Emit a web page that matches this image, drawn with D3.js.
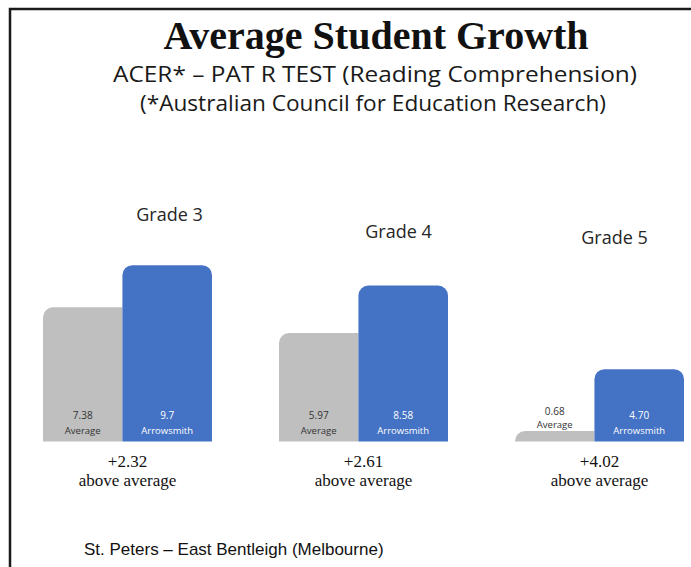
<!DOCTYPE html>
<html>
<head>
<meta charset="utf-8">
<script src="https://cdn.jsdelivr.net/npm/d3@7/dist/d3.min.js"></script>
<style>
    body { margin: 0; background: #fff; }
    svg { display: block; }
</style>
</head>
<body>
<div id="visualization"></div>
<script>
// Chart data
const grades = ["Grade 3", "Grade 4", "Grade 5"];
const seriesNames = ["Average", "Arrowsmith"];
const averageValues = [7.38, 5.97, 0.68];
const arrowsmithValues = [9.7, 8.58, 4.70];
const averageLabels = ["7.38", "5.97", "0.68"];
const arrowsmithLabels = ["9.7", "8.58", "4.70"];
// each grade was its own little chart, with its own axis maximum
const axisMax = [11, 11, 13];

// Layout
const width = 691, height = 567;
const baseline = 441.5, plotHeight = 200;
const titleDx = [42, 35, 15];
const titleY = [221, 238, 244];
const colors = { Average: "#bfbfbf", Arrowsmith: "#4472c4" };

const svg = d3.select("#visualization").append("svg")
    .attr("width", width)
    .attr("height", height);

// Frame (left + top edges)
svg.append("path")
    .attr("d", "M10,567 L10,9 L691,9")
    .attr("fill", "none")
    .attr("stroke", "#1a1a1a")
    .attr("stroke-width", 2.5);

// Titles
svg.append("text")
    .attr("x", 376).attr("y", 49)
    .attr("text-anchor", "middle")
    .attr("font-family", "Liberation Serif, serif")
    .attr("font-weight", "bold")
    .attr("font-size", 40)
    .attr("fill", "#111")
    .text("Average Student Growth");

svg.append("text")
    .attr("x", 375).attr("y", 82)
    .attr("text-anchor", "middle")
    .attr("font-family", "Open Sans, sans-serif")
    .attr("font-size", 21)
    .attr("fill", "#1a1a1a")
    .attr("textLength", 524)
    .attr("lengthAdjust", "spacingAndGlyphs")
    .text("ACER* \u2013 PAT R TEST (Reading Comprehension)");

svg.append("text")
    .attr("x", 373).attr("y", 111)
    .attr("text-anchor", "middle")
    .attr("font-family", "Open Sans, sans-serif")
    .attr("font-size", 21)
    .attr("fill", "#1a1a1a")
    .attr("textLength", 466)
    .attr("lengthAdjust", "spacingAndGlyphs")
    .text("(*Australian Council for Education Research)");

// Scales
const xGroup = d3.scaleBand()
    .domain(grades)
    .range([43, 684])
    .paddingInner(0.284);

// gray bar a bit narrower than the blue one
const xInner = d3.scaleLinear().domain([0, 1]).range([0, xGroup.bandwidth()]);
const split = 0.47;

const yScales = axisMax.map(m => d3.scaleLinear()
    .domain([0, m])
    .range([baseline, baseline - plotHeight]));

// Build bar records
let bars = [];
grades.forEach((g, i) => {
    bars.push({ grade: g, i: i, key: "Average", value: averageValues[i], label: averageLabels[i], x0: 0, x1: split });
    bars.push({ grade: g, i: i, key: "Arrowsmith", value: arrowsmithValues[i], label: arrowsmithLabels[i], x0: split, x1: 1 });
});

function barPath(x, y, w, h, rl, rr) {
    rl = Math.min(rl, h, w / 2);
    rr = Math.min(rr, h, w / 2);
    return "M" + x + "," + (y + h) +
        " L" + x + "," + (y + rl) +
        " A" + rl + "," + rl + " 0 0 1 " + (x + rl) + "," + y +
        " L" + (x + w - rr) + "," + y +
        " A" + rr + "," + rr + " 0 0 1 " + (x + w) + "," + (y + rr) +
        " L" + (x + w) + "," + (y + h) + " Z";
}

const groups = svg.selectAll("g.grade")
    .data(grades)
    .enter()
    .append("g")
    .attr("class", "grade")
    .attr("transform", d => "translate(" + xGroup(d) + ",0)");

groups.selectAll("path.bar")
    .data((g, i) => bars.filter(b => b.i === i))
    .enter()
    .append("path")
    .attr("class", "bar")
    .attr("fill", d => colors[d.key])
    .attr("d", d => {
        const y = yScales[d.i](d.value);
        const x = xInner(d.x0);
        const w = xInner(d.x1) - xInner(d.x0);
        const r = 10;
        return barPath(x, y, w, baseline - y, r, d.key === "Average" ? 0 : r);
    });

// Labels in (or above) bars
bars.forEach(d => {
    const y = yScales[d.i](d.value);
    const h = baseline - y;
    const cx = xGroup(d.grade) + (xInner(d.x0) + xInner(d.x1)) / 2;
    const inside = h > 40;
    const fill = d.key === "Average" ? "#333" : "#fff";
    const vy = inside ? baseline - 26 : y - 20;
    const ny = inside ? baseline - 11 : y - 6;
    svg.append("text")
        .attr("x", cx).attr("y", vy)
        .attr("dy", "0.35em")
        .attr("text-anchor", "middle")
        .attr("font-family", "Open Sans, sans-serif")
        .attr("font-size", 10)
        .attr("fill", fill)
        .text(d.label);
    svg.append("text")
        .attr("x", cx).attr("y", ny)
        .attr("dy", "0.35em")
        .attr("text-anchor", "middle")
        .attr("font-family", "Open Sans, sans-serif")
        .attr("font-size", 9.5)
        .attr("fill", fill)
        .text(seriesNames[d.key === "Average" ? 0 : 1]);
});

// Grade titles
grades.forEach((g, i) => {
    svg.append("text")
        .attr("x", xGroup(g) + xGroup.bandwidth() / 2 + titleDx[i])
        .attr("y", titleY[i])
        .attr("text-anchor", "middle")
        .attr("font-family", "Open Sans, sans-serif")
        .attr("font-size", 18)
        .attr("fill", "#262626")
        .text(g);
});

// Difference below each grade
const fmt = d3.format(".2f");
grades.forEach((g, i) => {
    const cx = xGroup(g) + xGroup.bandwidth() / 2;
    const diff = arrowsmithValues[i] - averageValues[i];
    svg.append("text")
        .attr("x", cx).attr("y", 467)
        .attr("text-anchor", "middle")
        .attr("font-family", "Liberation Serif, serif")
        .attr("font-size", 17)
        .attr("fill", "#111")
        .text("+" + fmt(diff));
    svg.append("text")
        .attr("x", cx).attr("y", 486)
        .attr("text-anchor", "middle")
        .attr("font-family", "Liberation Serif, serif")
        .attr("font-size", 17)
        .attr("fill", "#111")
        .text("above average");
});

// Footer
svg.append("text")
    .attr("x", 84).attr("y", 555)
    .attr("font-family", "Liberation Sans, Arial, sans-serif")
    .attr("font-size", 17)
    .attr("fill", "#111")
    .text("St. Peters \u2013 East Bentleigh (Melbourne)");
</script>
</body>
</html>
